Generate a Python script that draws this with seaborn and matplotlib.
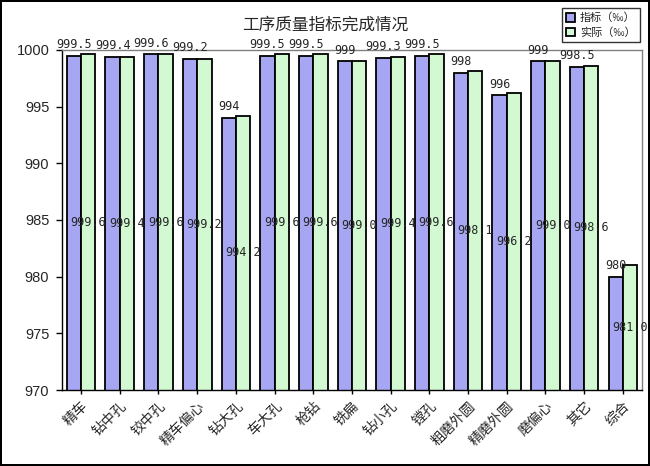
import pandas as pd
import matplotlib
matplotlib.use('Agg')
import matplotlib.pyplot as plt
import seaborn as sns

sns.set_style('white')
plt.rcParams['font.family'] = ['Noto Sans CJK SC', 'DejaVu Sans']

# 数据
categories = ['精车', '钻中孔', '铰中孔', '精车偏心', '钻大孔', '车大孔', '枪钻', '铣扁',
              '钻小孔', '镗孔', '粗磨外圆', '精磨外圆', '磨偏心', '其它', '综合']
target = [999.5, 999.4, 999.6, 999.2, 994, 999.5, 999.5, 999, 999.3, 999.5, 998, 996, 999, 998.5, 980]
actual = [999.6, 999.4, 999.6, 999.2, 994.2, 999.6, 999.6, 999.0, 999.4, 999.6, 998.1, 996.2, 999.0, 998.6, 981.0]
target_labels = ['999.5', '999.4', '999.6', '999.2', '994', '999.5', '999.5', '999', '999.3', '999.5',
                 '998', '996', '999', '998.5', '980']
series = ['指标（‰）', '实际（‰）']

df = pd.DataFrame({
    '工序': categories * 2,
    '值': target + actual,
    '类别': [series[0]] * len(categories) + [series[1]] * len(categories),
})

fig = plt.figure(figsize=(6.5, 4.66), dpi=100)
fig.patch.set_edgecolor('black')
fig.patch.set_linewidth(1.5)
ax = fig.add_axes([0.095, 0.163, 0.893, 0.73])

sns.barplot(data=df, x='工序', y='值', hue='类别', palette=['#9999FF', '#CCFFCC'],
            edgecolor='black', linewidth=1.3, width=0.74, ax=ax, legend=True)

ymin = 970
ax.set_ylim(ymin, 1000)
ax.set_yticks(range(970, 1001, 5))
ax.set_xlabel('')
ax.set_ylabel('')
ax.tick_params(axis='y', left=True, length=4, width=1, color='black', labelsize=10.5, pad=5)
ax.tick_params(axis='x', bottom=True, length=3, width=1, color='black')
for t in ax.get_yticklabels():
    t.set_family('Liberation Sans')
ax.set_xticks(range(len(categories)))
ax.set_xticklabels(categories, rotation=45, ha='right', rotation_mode='anchor', fontsize=10)
for s in ['top', 'right']:
    ax.spines[s].set_color('#808080')
for s in ['left', 'bottom']:
    ax.spines[s].set_color('black')
for s in ax.spines.values():
    s.set_linewidth(1)

# 数据标签
bars = ax.containers
for bar, lab in zip(bars[0], target_labels):
    x = bar.get_x() + bar.get_width() / 2
    ax.text(x, bar.get_height() + 0.4, lab, ha='center', va='bottom', fontsize=8.5,
            family='DejaVu Sans Mono', clip_on=False)
for bar, v in zip(bars[1], actual):
    x = bar.get_x() + bar.get_width() / 2
    ax.text(x, (ymin + v) / 2, f'{v:.1f}', ha='center', va='center', fontsize=8.5,
            family='DejaVu Sans Mono')

fig.text(0.5, 0.945, '工序质量指标完成情况', ha='center', va='center', fontsize=12)

handles, labels = ax.get_legend_handles_labels()
ax.get_legend().remove()
leg = fig.legend(handles, labels, loc='upper right', bbox_to_anchor=(0.993, 0.994),
                 fontsize=8, frameon=True, fancybox=False, edgecolor='black',
                 handlelength=0.8, handleheight=0.8, handletextpad=0.4,
                 borderpad=0.4, labelspacing=0.35)
leg.get_frame().set_linewidth(1)

fig.savefig('out.png', dpi=100)
